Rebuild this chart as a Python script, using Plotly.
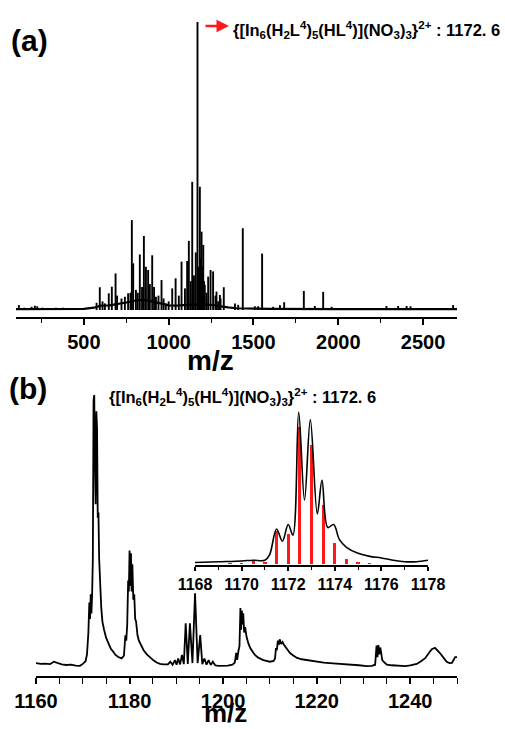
import plotly.graph_objects as go

# ---------------- data ----------------
# Panel (a): full spectrum, peaks (m/z, relative intensity) and baseline hump
peak_mz_a = [117, 150, 192, 211, 225, 256, 335, 378, 575, 594, 610, 624, 647, 665, 687, 696,
             722, 742, 761, 775, 783, 791, 807, 818, 830, 843, 854, 866, 879, 889, 903, 914,
             925, 940, 958, 970, 983, 1000, 1021, 1041, 1060, 1076, 1096, 1109, 1119, 1130,
             1139, 1149, 1160, 1170, 1178, 1184, 1189, 1194, 1199, 1204, 1209, 1213, 1223,
             1233, 1247, 1262, 1276, 1282, 1292, 1302, 1306, 1325, 1391, 1410, 1437, 1508,
             1528, 1551, 1616, 1656, 1681, 1797, 1862, 1911, 1961, 2050, 2150, 2284, 2353,
             2403, 2426, 2677]
peak_int_a = [1.7, 0.8, 1.1, 1.5, 1.3, 0.8, 0.8, 0.8, 2.5, 7.9, 3, 2.3, 5.8, 8.1, 12.7, 5,
              4, 4.6, 5.8, 6, 31.2, 16.2, 7, 6, 19.3, 8, 25.7, 15, 13.9, 9, 19, 8,
              4.6, 5, 10.4, 4, 2.3, 3, 7.5, 11, 5, 16.8, 7.5, 17, 24, 10,
              44.5, 12, 20, 100, 15, 42.8, 18, 27.2, 15, 22.6, 10, 8.7, 6,
              11.6, 13.9, 13.4, 5, 6.4, 3, 5.2, 4, 7.9, 2.3, 1.8, 28.4, 1.3,
              1.3, 19.6, 1.1, 1.7, 2.7, 6.6, 1.4, 6.3, 1.1, 0.7, 0.7, 1.4, 1.4,
              1.4, 1.3, 1.7]
base_mz_a = [100, 300, 500, 560, 600, 650, 700, 750, 800, 850, 900, 950, 1000, 1050, 1100,
             1150, 1200, 1250, 1300, 1350, 1400, 1600, 2000, 2700]
base_int_a = [0.3, 0.3, 0.4, 0.8, 1.5, 1.6, 2.0, 2.6, 3.2, 3.5, 3.0, 2.3, 1.6, 1.5, 1.8,
              2.0, 2.2, 1.8, 1.3, 0.9, 0.6, 0.4, 0.3, 0.3]

# Panel (b): zoomed spectrum 1160-1250
mz_b = [1160.0, 1161.0, 1162.0, 1163.0, 1163.8, 1164.5, 1165.5, 1166.5, 1167.5, 1168.5, 1169.4,
        1170.0, 1170.6, 1170.9, 1171.2, 1171.4, 1171.55, 1171.7, 1171.85, 1172.0, 1172.15,
        1172.3, 1172.45, 1172.6, 1172.75, 1172.9, 1173.05, 1173.2, 1173.35, 1173.5, 1173.65,
        1173.8, 1173.95, 1174.2, 1174.55, 1175.0, 1175.5, 1176.0, 1176.5, 1177.0, 1177.6,
        1178.3, 1178.8, 1179.1, 1179.3, 1179.5, 1179.7, 1179.85, 1180.0, 1180.15, 1180.3,
        1180.45, 1180.6, 1180.8, 1181.0, 1181.2, 1181.4, 1181.7, 1182.0, 1182.5, 1183.0,
        1183.7, 1184.4, 1185.1, 1185.8, 1186.5, 1187.3, 1188.2, 1188.7, 1189.2, 1189.7,
        1190.05, 1190.4, 1190.8, 1191.2, 1191.6, 1192.0, 1192.45, 1192.9, 1193.45, 1194.0,
        1194.55, 1195.1, 1195.55, 1196.0, 1196.45, 1196.9, 1197.35, 1197.8, 1198.3, 1199.0,
        1200.0, 1201.0, 1202.0, 1202.5,
        1202.8, 1203.0, 1203.3, 1203.5, 1203.7, 1203.85, 1204.0, 1204.15, 1204.3, 1204.5,
        1204.7, 1205.0, 1205.4, 1205.8, 1206.3, 1206.8, 1207.5, 1208.6, 1210.0, 1210.8,
        1211.1, 1211.3, 1211.5, 1211.7, 1211.9, 1212.1, 1212.4, 1212.7, 1213.0, 1213.5,
        1214.3, 1215.0, 1215.8, 1216.8, 1217.9, 1219.0, 1220.0, 1221.5, 1223.5, 1225.5,
        1227.2, 1229.0, 1230.7, 1231.8, 1232.5, 1232.8, 1233.0, 1233.2, 1233.4, 1233.6,
        1233.8, 1234.0, 1234.3, 1235.0, 1236.0, 1237.0, 1238.0, 1239.0, 1240.0, 1241.4,
        1242.3, 1243.2, 1244.0, 1244.6, 1245.3, 1245.9, 1246.4, 1247.1, 1247.8, 1248.4,
        1248.9, 1249.3, 1249.6, 1250.0]
int_b = [1.8, 1.5, 1.6, 1.4, 2.3, 1.8, 1.3, 1.1, 1.2, 0.9, 0.8,
         1.5, 2.5, 5, 13, 24, 18, 27, 20, 27, 40,
         98, 100, 75, 60, 94, 88, 55, 57, 40, 36,
         28, 22, 17, 14, 11, 9, 7, 6, 4.8, 4,
         3.5, 4.5, 12, 10, 16, 32, 28, 43, 30, 42,
         28, 38, 25, 27, 18, 17, 12, 10, 8, 6.5,
         5, 3.7, 2.8, 2, 1.5, 1.3, 1.3, 2.3, 1.2, 2.9,
         1.2, 3.5, 1.3, 4.8, 1.4, 16.4, 1.5, 16.4, 1.8, 27.4,
         1.8, 12.1, 1.4, 3.5, 1.2, 2.9, 1.1, 2.3, 1.0, 0.8,
         0.8, 0.9, 1.2, 2,
         5.5, 3, 6.5, 8, 22, 14, 21, 16, 20, 13,
         15, 11.5, 9, 7.3, 6, 4.8, 3.8, 2.9, 2.3, 2.6,
         3.5, 7.3, 6.5, 10, 8.5, 10.5, 8.8, 9.5, 8.5, 7.5,
         5.5, 4.6, 3.7, 3.2, 2.9, 2.6, 2.3, 2.0, 1.7, 1.5,
         1.2, 1.0, 0.7, 0.8, 1.2, 8.2, 4, 8.4, 5, 7.5,
         5.5, 3, 2.3, 1.2, 1.0, 0.9, 0.8, 0.7, 1.0, 1.5,
         2.5, 3.6, 5.5, 6.9, 7.4, 6.5, 5.4, 3.8, 2.3, 1.8,
         1.9, 3, 4, 4]

# Inset: experimental profile and simulated isotope pattern
mz_exp = [1168.0, 1169.0, 1170.0, 1170.5, 1171.0, 1171.2, 1171.5, 1171.75, 1172.0, 1172.2,
          1172.45, 1172.7, 1172.95, 1173.25, 1173.45, 1173.7, 1173.95, 1174.2, 1174.5,
          1175.0, 1175.5, 1176.0, 1176.5, 1177.0, 1177.5, 1178.0]
int_exp = [1, 1.5, 2, 2.5, 2.5, 6, 23, 15, 26, 19,
           100, 42, 95, 33, 55, 24, 26, 16, 11,
           7, 5, 4, 2.5, 1.5, 1.5, 2.5]
mz_sim = [1169.5, 1170.0, 1170.5, 1171.0, 1171.5, 1172.0, 1172.5, 1173.0, 1173.5, 1174.0,
          1174.5, 1175.0, 1175.5]
int_sim = [0.5, 0.5, 2, 1.5, 22, 20, 90, 78, 39, 14, 3.5, 1, 0.5]

ion_label = ("<b>{[In<sub>6</sub>(H<sub>2</sub>L<sup>4</sup>)<sub>5</sub>(HL<sup>4</sup>)]"
             "(NO<sub>3</sub>)<sub>3</sub>}<sup>2+</sup> : 1172. 6</b>")

# ---------------- figure ----------------
W, H = 505, 729
FONT = "Liberation Sans, Arial, sans-serif"


def px_x(p):
    return p / W


def px_y(p):
    return 1 - p / H


# sticks for panel (a)
stick_x, stick_y = [], []
for m, v in zip(peak_mz_a, peak_int_a):
    stick_x += [m, m, None]
    stick_y += [0, v, None]

fig = go.Figure()
fig.add_trace(go.Scatter(x=base_mz_a, y=base_int_a, mode="lines",
                         line=dict(color="black", width=2.2), xaxis="x", yaxis="y",
                         hoverinfo="skip", showlegend=False))
fig.add_trace(go.Scatter(x=stick_x, y=stick_y, mode="lines",
                         line=dict(color="black", width=1.9), xaxis="x", yaxis="y",
                         showlegend=False))
fig.add_trace(go.Scatter(x=mz_b, y=int_b, mode="lines",
                         line=dict(color="black", width=1.8), xaxis="x2", yaxis="y2",
                         showlegend=False))
fig.add_trace(go.Bar(x=mz_sim, y=int_sim, width=0.14, marker=dict(color="#ff1a1a", line=dict(width=0)),
                     xaxis="x3", yaxis="y3", showlegend=False))
fig.add_trace(go.Scatter(x=mz_exp, y=int_exp, mode="lines", line_shape="spline",
                         line=dict(color="black", width=1.6), xaxis="x3", yaxis="y3",
                         showlegend=False))

tickfont_big = dict(family=FONT, size=20, color="black", weight="bold")
tickfont_small = dict(family=FONT, size=16, color="black", weight="bold")


def xaxis_cfg(dom, rng, tick0, dtick, mdtick, font, lw=2, tl=6, mtl=4):
    return dict(domain=dom, range=rng, showline=True, linecolor="black", linewidth=lw,
                ticks="outside", ticklen=tl, tickwidth=1.6, tickcolor="black",
                tickmode="linear", tick0=tick0, dtick=dtick, tickfont=font,
                showgrid=False, zeroline=False, fixedrange=True, automargin=False,
                minor=dict(ticks="outside", ticklen=mtl, tickwidth=1.4, tickcolor="black",
                           dtick=mdtick, tick0=tick0, showgrid=False))


def yaxis_cfg(dom, rng, anchor):
    return dict(domain=dom, range=rng, visible=False, showgrid=False, zeroline=False,
                anchor=anchor, fixedrange=True, automargin=False)


# panel (a): zero at 310px, 100 at 22px, axis line at 317px
a_bot, a_top = 317, 15
a_scale = (310 - 22) / 100.0
a_min = -(a_bot - 310) / a_scale
a_max = a_min + (a_bot - a_top) / a_scale

# panel (b): zero at 668px, 100 at 395px, axis line at 676px
b_bot, b_top = 676, 388
b_scale = (668 - 395) / 100.0
b_min = -(b_bot - 668) / b_scale
b_max = b_min + (b_bot - b_top) / b_scale

# inset: zero at 564px, 100 at 412px, axis line at 565px
c_bot, c_top = 565, 405
c_scale = (564 - 412) / 100.0
c_min = -(c_bot - 564) / c_scale
c_max = c_min + (c_bot - c_top) / c_scale

fig.update_layout(
    template="none",
    width=W, height=H, margin=dict(l=0, r=0, t=0, b=0, pad=0), autosize=False,
    paper_bgcolor="white", plot_bgcolor="rgba(0,0,0,0)",
    showlegend=False, bargap=0,
    xaxis=dict(**xaxis_cfg([px_x(16), px_x(457)], [100, 2700], 500, 500, 250, tickfont_big,
                           lw=2.2), anchor="y"),
    yaxis=yaxis_cfg([px_y(a_bot), px_y(a_top)], [a_min, a_max], "x"),
    xaxis2=dict(**xaxis_cfg([px_x(36), px_x(457)], [1160, 1250], 1160, 20, 5, tickfont_big,
                            lw=2.2, tl=6, mtl=6), anchor="y2"),
    yaxis2=yaxis_cfg([px_y(b_bot), px_y(b_top)], [b_min, b_max], "x2"),
    xaxis3=dict(**xaxis_cfg([px_x(195), px_x(428)], [1168, 1178], 1168, 2, 1, tickfont_small,
                            lw=1.6, tl=4, mtl=3), anchor="y3"),
    yaxis3=yaxis_cfg([px_y(c_bot), px_y(c_top)], [c_min, c_max], "x3"),
)

ann = [
    dict(text="<b>(a)</b>", x=px_x(10), y=px_y(40), xanchor="left", yanchor="middle",
         font=dict(family=FONT, size=30, color="black")),
    dict(text="<b>(b)</b>", x=px_x(8), y=px_y(388), xanchor="left", yanchor="middle",
         font=dict(family=FONT, size=30, color="black")),
    dict(text="<b>m/z</b>", x=px_x(210), y=px_y(361), xanchor="center", yanchor="middle",
         font=dict(family=FONT, size=28, color="black")),
    dict(text="<b>m/z</b>", x=px_x(225), y=0, xanchor="center", yanchor="bottom",
         font=dict(family=FONT, size=26, color="black")),
    dict(text=ion_label, x=px_x(366), y=px_y(30), xanchor="center", yanchor="middle",
         font=dict(family=FONT, size=16.5, color="black")),
    dict(text=ion_label, x=px_x(242), y=px_y(397), xanchor="center", yanchor="middle",
         font=dict(family=FONT, size=16.5, color="black")),
]
for a in ann:
    a.update(xref="paper", yref="paper", showarrow=False, borderpad=0)
# red arrow
ann.append(dict(x=px_x(229), y=px_y(26), ax=-25, ay=0,
                xref="paper", yref="paper", axref="pixel", ayref="pixel",
                text="", showarrow=True, arrowhead=2, arrowsize=1, arrowwidth=2.5,
                arrowcolor="#ff1a1a"))
fig.update_layout(annotations=ann)

fig.write_html("out.html", config={"displayModeBar": False},
               post_script="document.body.style.margin='0';")
